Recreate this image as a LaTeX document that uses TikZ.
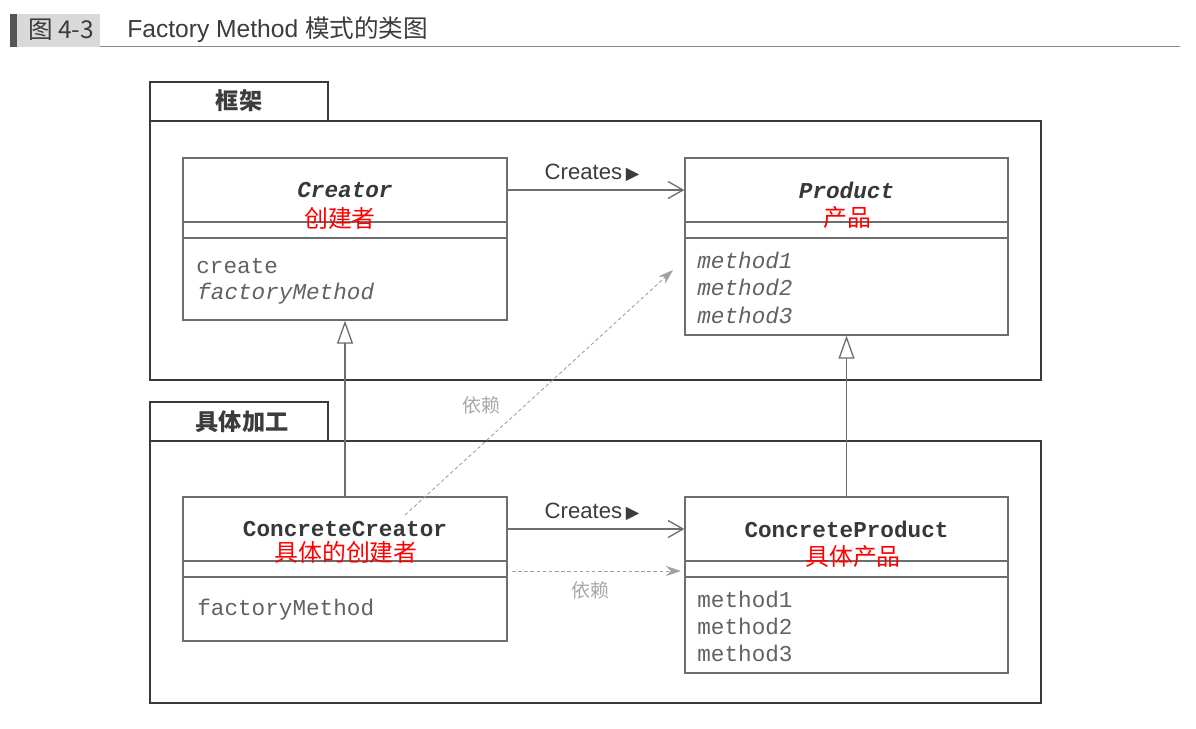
\documentclass[tikz,border=0pt]{standalone}
\usepackage{fontspec}
\setmainfont{Liberation Sans}
\setsansfont{Liberation Sans}
\setmonofont{Liberation Mono}
\newfontfamily\cjk{Noto Sans CJK SC}
\newfontfamily\dejavu{DejaVu Sans}
\usetikzlibrary{arrows.meta,calc}
\definecolor{boxline}{HTML}{6E6E6E}
\definecolor{pkgline}{HTML}{3A3A3A}
\definecolor{monotxt}{HTML}{626262}
\definecolor{nametxt}{HTML}{383838}
\definecolor{deptxt}{HTML}{A8A8A8}
\definecolor{depline}{HTML}{A0A0A0}
\definecolor{hdrbox}{HTML}{D9D9D9}
\definecolor{hdrbar}{HTML}{555555}
\definecolor{hdrtxt}{HTML}{3C3C3C}
\tikzset{
  classbox/.style={draw=boxline, line width=0.75pt, fill=white, inner sep=0pt},
  pkgbox/.style={draw=pkgline, line width=1.4pt, inner sep=0pt},
  pkgtxt/.style={font=\cjk\bfseries\fontsize{13.2}{16}\selectfont, text=hdrtxt},
  clsname/.style={font=\ttfamily\bfseries\fontsize{12.9}{15}\selectfont, text=nametxt, inner sep=0pt},
  cnname/.style={font=\cjk\fontsize{13.6}{16}\selectfont, text=red, inner sep=0pt},
  meth/.style={font=\ttfamily\fontsize{12.9}{15}\selectfont, text=monotxt, anchor=west, inner sep=0pt},
  divider/.style={draw=boxline, line width=0.75pt},
  assoc/.style={draw=boxline, line width=0.75pt, -{Straight Barb[length=0.3cm,width=0.34cm]}},
  inherit/.style={draw=boxline, line width=0.75pt, -{Triangle[open,fill=white,length=0.46cm,width=0.32cm]}},
  dep/.style={draw=depline, line width=0.5pt, dash pattern=on 2pt off 1.5pt, -{Stealth[length=0.3cm,width=0.2cm]}},
  lbl/.style={font=\sffamily\fontsize{12.6}{15}\selectfont, text=hdrtxt, inner sep=0pt},
  deplbl/.style={font=\cjk\fontsize{10.8}{13}\selectfont, text=deptxt, inner sep=0pt},
}
\newcommand{\arrtri}{{\dejavu\fontsize{10}{12}\selectfont ▶}}
\begin{document}
\begin{tikzpicture}[x=0.02cm,y=-0.02cm]
\useasboundingbox[fill=white] (0,0) rectangle (1196,728);
% header
\draw[draw=hdrbar!70, line width=1pt] (10,46.5) -- (1180,46.5);
\node[fill=hdrbox, minimum width=1.66cm, minimum height=0.66cm, inner sep=0pt] (hbox) at (58.5,30.5) {};
\node[fill=hdrbar, minimum width=0.14cm, minimum height=0.66cm, inner sep=0pt] (hbar) at (13.5,30.5) {};
\node[font=\cjk\fontsize{14}{17}\selectfont, text=hdrtxt] (hnum) at (61,30) {图 4-3};
\node[font=\sffamily\fontsize{14}{17}\selectfont, text=hdrtxt, anchor=west, inner sep=0pt] (htitle) at (127,30) {Factory Method {\cjk 模式的类图}};

% packages
\node[pkgbox, minimum width=3.56cm, minimum height=0.78cm] (tab1) at (239,101.5) {};
\node[pkgbox, minimum width=17.82cm, minimum height=5.18cm] (pkg1) at (595.5,250.5) {};
\node[pkgtxt] (tab1t) at (239,101) {框架};
\node[pkgbox, minimum width=3.56cm, minimum height=0.78cm] (tab2) at (239,421.5) {};
\node[pkgbox, minimum width=17.82cm, minimum height=5.24cm] (pkg2) at (595.5,572) {};
\node[pkgtxt] (tab2t) at (242,422) {具体加工};

% class boxes
\node[classbox, minimum width=6.48cm, minimum height=3.24cm] (creator) at (345,239) {};
\node[classbox, minimum width=6.46cm, minimum height=3.54cm] (product) at (846.5,246.5) {};
\node[classbox, minimum width=6.48cm, minimum height=2.88cm] (ccreator) at (345,569) {};
\node[classbox, minimum width=6.46cm, minimum height=3.52cm] (cproduct) at (846.5,585) {};

% dividers
\draw[divider] (creator.west |- 0,222) -- (creator.east |- 0,222);
\draw[divider] (creator.west |- 0,238) -- (creator.east |- 0,238);
\draw[divider] (product.west |- 0,222) -- (product.east |- 0,222);
\draw[divider] (product.west |- 0,238) -- (product.east |- 0,238);
\draw[divider] (ccreator.west |- 0,561) -- (ccreator.east |- 0,561);
\draw[divider] (ccreator.west |- 0,577) -- (ccreator.east |- 0,577);
\draw[divider] (cproduct.west |- 0,561) -- (cproduct.east |- 0,561);
\draw[divider] (cproduct.west |- 0,577) -- (cproduct.east |- 0,577);

% names
\node[clsname, font=\ttfamily\bfseries\itshape\fontsize{12.9}{15}\selectfont] (creatorname) at (345,190) {Creator};
\node[cnname] (creatorcn) at (340,218) {创建者};
\node[clsname, font=\ttfamily\bfseries\itshape\fontsize{12.9}{15}\selectfont] (productname) at (846.5,190) {Product};
\node[cnname] (productcn) at (847,217) {产品};
\node[clsname] (ccreatorname) at (345,529) {ConcreteCreator};
\node[cnname] (ccreatorcn) at (346,552) {具体的创建者};
\node[clsname] (cproductname) at (846.5,529) {ConcreteProduct};
\node[cnname] (cproductcn) at (853,556) {具体产品};

% methods
\node[meth] (m1) at (196,266) {create};
\node[meth, font=\ttfamily\itshape\fontsize{12.9}{15}\selectfont] (m2) at (197,294) {factoryMethod};
\node[meth, font=\ttfamily\itshape\fontsize{12.9}{15}\selectfont] (m3) at (697,260) {method1};
\node[meth, font=\ttfamily\itshape\fontsize{12.9}{15}\selectfont] (m4) at (697,287) {method2};
\node[meth, font=\ttfamily\itshape\fontsize{12.9}{15}\selectfont] (m5) at (697,315) {method3};
\node[meth] (m6) at (197,610) {factoryMethod};
\node[meth] (m7) at (697,599) {method1};
\node[meth] (m8) at (697,626) {method2};
\node[meth] (m9) at (697,653) {method3};

% associations
\draw[assoc] (creatorname -| creator.east) -- (creatorname -| product.west);
\node[lbl] (cr1) at (592,173) {Creates\,\arrtri};
\draw[assoc] (ccreatorname -| ccreator.east) -- (ccreatorname -| cproduct.west);
\node[lbl] (cr2) at (592,512) {Creates\,\arrtri};

% inheritance
\draw[inherit] (ccreator.north) -- (creator.south);
\draw[inherit] (cproduct.north) -- (product.south);

% dependencies
\coordinate (d1s) at (405,515);
\coordinate (d1e) at (673,270);
\draw[dep] (d1s) -- (d1e);
\node[deplbl] (dl1) at (481,405) {依赖};
\coordinate (d2s) at (512,571);
\coordinate (d2e) at (681,571);
\draw[dep] (d2s) -- (d2e);
\node[deplbl] (dl2) at (590,590) {依赖};
\end{tikzpicture}
\end{document}
